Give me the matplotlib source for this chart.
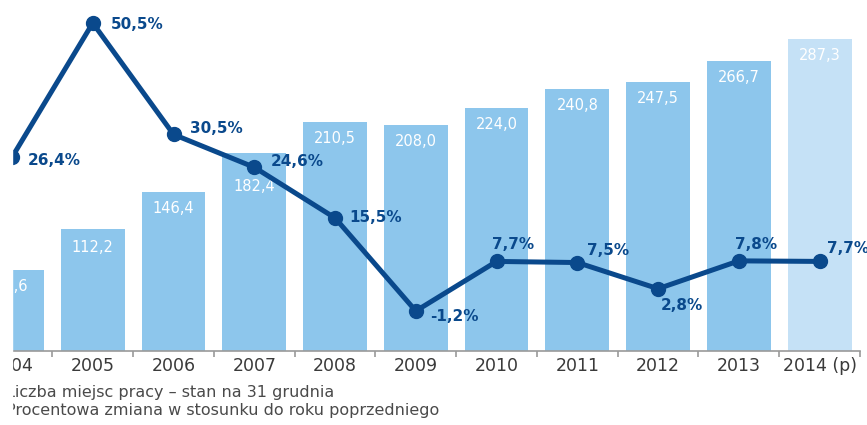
import matplotlib.pyplot as plt
from matplotlib.patches import Rectangle
from matplotlib.ticker import FixedLocator

years = ["2004", "2005", "2006", "2007", "2008", "2009", "2010", "2011", "2012", "2013", "2014 (p)"]
jobs = [74.6, 112.2, 146.4, 182.4, 210.5, 208.0, 224.0, 240.8, 247.5, 266.7, 287.3]
change = [26.4, 50.5, 30.5, 24.6, 15.5, -1.2, 7.7, 7.5, 2.8, 7.8, 7.7]
legend_texts = ["Liczba miejsc pracy \u2013 stan na 31 grudnia",
                "Procentowa zmiana w stosunku do roku poprzedniego"]

# label offsets (points) for the percent labels and bar labels, per point
pct_offsets = [(11, -2), (13, -1), (12, 4), (12, 4), (10, 0), (10, -4),
               (-3, 12), (7, 9), (2, -12), (-3, 12), (5, 9)]
bar_offsets = [-12, -13, -12, -24, -12, -12, -12, -12, -12, -12, -12]

BAR = "#8DC6EC"
BAR_P = "#C5E1F6"
LINE = "#0A498C"
TXT = "#3a3a3a"

W, H = 867, 425
fig = plt.figure(figsize=(W / 100, H / 100), dpi=100)
ax = fig.add_axes([12 / W, 74 / H, 848 / W, 351 / H])

x = list(range(len(years)))
colors = [BAR] * (len(years) - 1) + [BAR_P]
ax.bar(x, jobs, width=0.79, color=colors, zorder=2)
for xi, v, dy in zip(x, jobs, bar_offsets):
    ax.annotate(f"{v:.1f}".replace(".", ","), (xi, v), xytext=(0, dy),
                textcoords="offset points", ha="center", va="center",
                color="white", fontsize=10.5, zorder=3)

ax.set_xlim(0.037, 10.5)
ax.set_ylim(0, 323)
ax.set_yticks([])
for s in ["top", "right", "left"]:
    ax.spines[s].set_visible(False)
ax.spines["bottom"].set_color("#9a9a9a")
ax.spines["bottom"].set_linewidth(1.2)
ax.set_xticks(x)
ax.set_xticklabels(years, fontsize=12.5, color=TXT)
ax.tick_params(axis="x", which="major", length=0, pad=4)
ax.xaxis.set_minor_locator(FixedLocator([i + 0.5 for i in x]))
ax.tick_params(axis="x", which="minor", length=4, color="#9a9a9a", width=1.2)

ax2 = ax.twinx()
ax2.plot(x, change, color=LINE, lw=3.6, marker="o", ms=10, zorder=4)
ax2.set_ylim(-8.38, 54.63)
ax2.set_xlim(ax.get_xlim())
ax2.axis("off")
for xi, v, (dx, dy) in zip(x, change, pct_offsets):
    ax2.annotate(f"{v:.1f}%".replace(".", ","), (xi, v), xytext=(dx, dy),
                 textcoords="offset points", ha="left", va="center",
                 color=LINE, fontsize=11, fontweight="bold", zorder=5,
                 annotation_clip=False)

fig.text(6 / W, 1 - 393 / H, legend_texts[0], fontsize=11.5, color="#4a4a4a", va="center")
fig.text(6 / W, 1 - 411 / H, legend_texts[1], fontsize=11.5, color="#4a4a4a", va="center")

# the source image is cropped on the left
fig.add_artist(Rectangle((0, 0), 12 / W, 1, transform=fig.transFigure,
                         color="white", zorder=100))

fig.savefig("out.png", dpi=100)
